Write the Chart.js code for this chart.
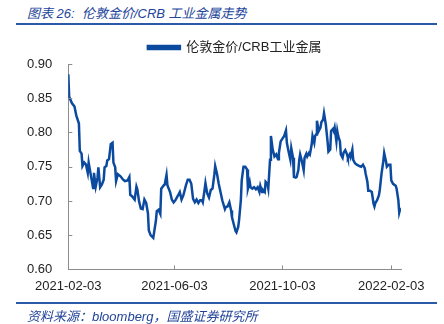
<!DOCTYPE html>
<html>
<head>
<meta charset="utf-8">
<script src="https://cdn.jsdelivr.net/npm/chart.js@4/dist/chart.umd.min.js"></script>
<style>
  body { margin: 0; width: 444px; height: 324px; background: #fff; position: relative; overflow: hidden; }
  .cap { position: absolute; left: 27px; font-style: italic; color: #22449a; font-family: "Liberation Sans", "Noto Sans CJK SC", sans-serif; white-space: nowrap; }
  .rule { position: absolute; left: 16px; width: 421px; height: 2px; background: #2a5aa8; }
  #wrap { position: absolute; left: 0; top: 31px; width: 444px; height: 272px; }
</style>
</head>
<body>
<div class="cap" style="top:3px;font-size:13px;">图表 26:&nbsp; 伦敦金价/CRB 工业金属走势</div>
<div class="rule" style="top:23px;"></div>
<div id="wrap"><canvas id="grafico"></canvas></div>
<div class="rule" style="top:302px;"></div>
<div class="cap" style="top:306px;font-size:13px;">资料来源：bloomberg，国盛证券研究所</div>
<script>
// Datos: días desde 2021-02-03 y ratio oro Londres / CRB metales industriales
const inicio = '2021-02-03';
const dias = [0,1,4,7,9,12,13,15,16,18,20,22,23,25,26,28,29,31,33,34,36,38,40,41,43,44,46,48,50,51,53,54,56,59,62,64,67,69,70,72,75,77,78,80,82,84,86,88,90,91,93,96,99,100,102,104,105,108,109,111,112,115,117,119,121,124,126,128,130,133,135,137,139,141,143,145,147,149,151,152,154,155,157,159,161,163,165,166,168,170,172,174,177,178,180,182,184,185,187,189,190,192,193,195,196,198,200,202,203,205,206,208,210,212,214,216,217,219,220,222,223,225,226,228,229,231,233,235,237,238,240,242,244,246,247,249,251,252,254,255,257,258,260,261,262,264,266,267,269,270,272,273,275,276,278,279,280,281,283,285,286,288,289,291,293,294,296,297,299,300,301,303,304,305,307,308,310,311,313,315,316,318,319,321,322,324,326,329,331,333,335,336,338,339,341,343,345,346,347,349,351,352,354,356,357,359,360,362,364,365,367,370,371,373,374,375,376];
const ratio = [0.885,0.852,0.843,0.838,0.825,0.813,0.773,0.769,0.751,0.756,0.753,0.741,0.756,0.741,0.734,0.719,0.741,0.721,0.734,0.749,0.720,0.724,0.731,0.749,0.751,0.759,0.761,0.783,0.785,0.756,0.749,0.729,0.739,0.736,0.731,0.729,0.730,0.735,0.709,0.707,0.702,0.721,0.717,0.699,0.689,0.688,0.702,0.697,0.682,0.657,0.650,0.646,0.671,0.685,0.687,0.681,0.718,0.723,0.724,0.738,0.723,0.713,0.702,0.698,0.701,0.708,0.713,0.702,0.708,0.723,0.731,0.731,0.725,0.703,0.698,0.702,0.697,0.701,0.701,0.698,0.716,0.726,0.711,0.705,0.716,0.718,0.738,0.751,0.740,0.725,0.713,0.701,0.688,0.691,0.692,0.698,0.686,0.676,0.666,0.656,0.654,0.662,0.672,0.701,0.730,0.750,0.750,0.746,0.718,0.728,0.720,0.718,0.720,0.717,0.720,0.713,0.722,0.713,0.716,0.713,0.728,0.725,0.718,0.760,0.795,0.775,0.765,0.768,0.761,0.770,0.787,0.791,0.795,0.803,0.785,0.772,0.760,0.777,0.763,0.735,0.734,0.735,0.745,0.760,0.768,0.758,0.745,0.763,0.769,0.765,0.770,0.768,0.782,0.795,0.785,0.795,0.797,0.817,0.802,0.807,0.815,0.819,0.828,0.812,0.787,0.772,0.775,0.802,0.805,0.802,0.807,0.787,0.802,0.795,0.787,0.768,0.763,0.770,0.774,0.768,0.763,0.768,0.764,0.775,0.760,0.755,0.753,0.751,0.750,0.753,0.748,0.740,0.728,0.715,0.715,0.713,0.696,0.692,0.697,0.701,0.708,0.716,0.740,0.758,0.770,0.758,0.750,0.753,0.753,0.730,0.725,0.722,0.718,0.701,0.683,0.688,0.689];
const etiquetasX = ['2021-02-03', '2021-06-03', '2021-10-03', '2022-02-03'];
const ticksY = [0.60, 0.65, 0.70, 0.75, 0.80, 0.85, 0.90];
const serie = '伦敦金价/CRB工业金属';

const DIA = 86400000;
const offsetDe = s => (Date.parse(s) - Date.parse(inicio)) / DIA;
const fechaDe = d => new Date(Date.parse(inicio) + d * DIA).toISOString().slice(0, 10);

// Marcas de eje hacia dentro
const marcasInternas = {
  id: 'marcasInternas',
  afterDraw(chart) {
    const ctx = chart.ctx, x = chart.scales.x, y = chart.scales.y;
    ctx.save();
    ctx.strokeStyle = '#8c8c8c';
    ctx.lineWidth = 1;
    y.ticks.forEach(t => {
      const py = Math.round(y.getPixelForValue(t.value)) + 0.5;
      ctx.beginPath(); ctx.moveTo(x.left, py); ctx.lineTo(x.left + 4, py); ctx.stroke();
    });
    x.ticks.forEach(t => {
      const px = Math.round(x.getPixelForValue(t.value)) + 0.5;
      ctx.beginPath(); ctx.moveTo(px, y.bottom); ctx.lineTo(px, y.bottom - 4); ctx.stroke();
    });
    ctx.restore();
  }
};

document.addEventListener('DOMContentLoaded', function() {
  new Chart(document.getElementById('grafico'), {
    type: 'line',
    data: {
      datasets: [{
        label: serie,
        data: dias.map((d, i) => ({ x: d, y: ratio[i] })),
        borderColor: '#0b4a9e',
        backgroundColor: '#0b4a9e',
        borderWidth: 2.5,
        pointRadius: 0,
        tension: 0
      }]
    },
    options: {
      responsive: true,
      maintainAspectRatio: false,
      animation: false,
      layout: { padding: { left: 11, right: 43, top: 0, bottom: 0 } },
      plugins: {
        legend: {
          display: true,
          fullSize: false,
          labels: {
            boxWidth: 32,
            boxHeight: 3,
            padding: 10,
            color: '#222',
            font: { size: 13, family: '"Liberation Sans", "Noto Sans CJK SC", sans-serif' }
          }
        },
        tooltip: { enabled: false }
      },
      scales: {
        x: {
          type: 'linear',
          min: 0,
          max: dias[dias.length - 1],
          afterBuildTicks: axis => { axis.ticks = etiquetasX.map(s => ({ value: offsetDe(s) })); },
          grid: { display: false, drawTicks: false },
          border: { display: true, color: '#8c8c8c', width: 1 },
          ticks: {
            padding: 9,
            maxRotation: 0,
            autoSkip: false,
            color: '#222',
            font: { size: 13, family: '"Liberation Sans", sans-serif' },
            callback: v => fechaDe(v)
          }
        },
        y: {
          min: 0.60,
          max: 0.90,
          afterBuildTicks: axis => { axis.ticks = ticksY.map(v => ({ value: v })); },
          grid: { display: false, drawTicks: false },
          border: { display: true, color: '#8c8c8c', width: 1 },
          ticks: {
            padding: 16,
            color: '#222',
            font: { size: 13, family: '"Liberation Sans", sans-serif' },
            callback: v => v.toFixed(2)
          }
        }
      }
    },
    plugins: [marcasInternas]
  });
});
</script>
</body>
</html>
